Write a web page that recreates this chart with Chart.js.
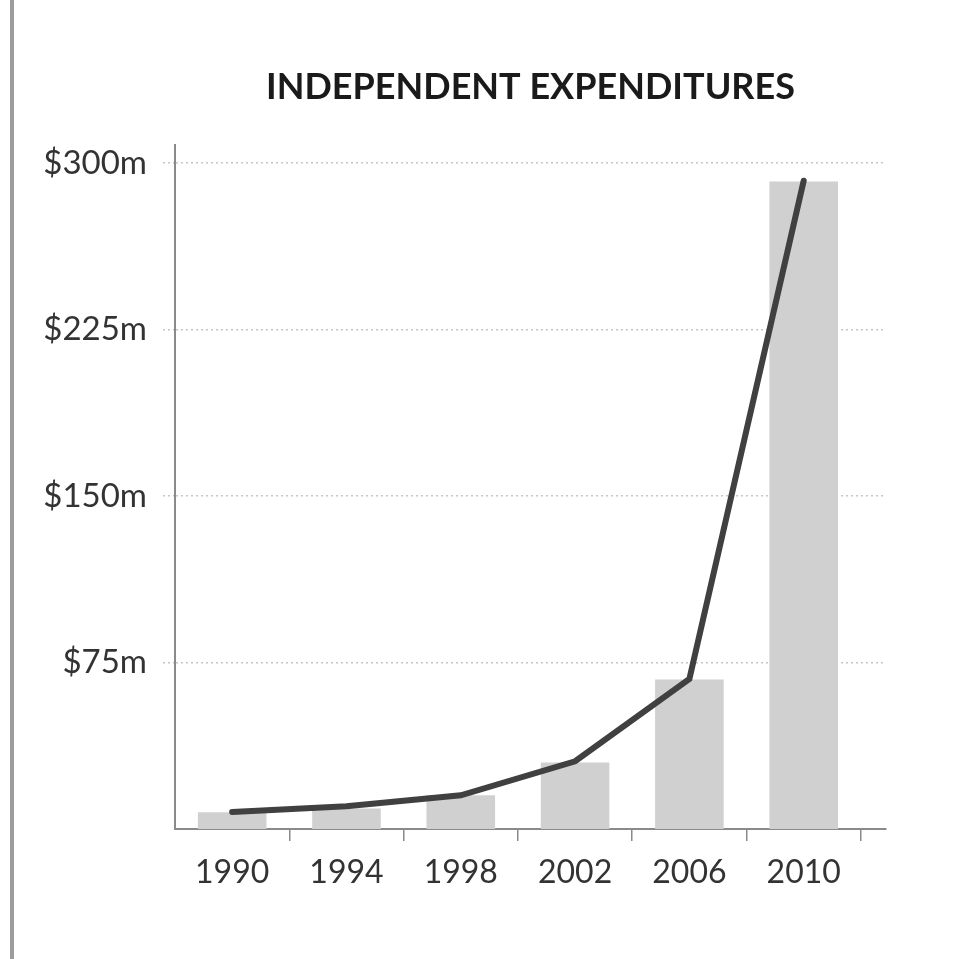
<!DOCTYPE html>
<html>
<head>
<meta charset="utf-8">
<script src="https://cdn.jsdelivr.net/npm/chart.js@4"></script>
<style>
  html, body { margin: 0; padding: 0; background: #fff; }
  body { width: 957px; height: 959px; position: relative; overflow: hidden; }
  #edge { position: absolute; left: 10px; top: 0; width: 4px; height: 959px; background: #9c9c9c; }
  #chart { position: absolute; left: 0; top: 0; }
</style>
</head>
<body>
<div id="edge"></div>
<canvas id="chart" width="957" height="959"></canvas>
<script>
// election cycles and spending, in millions of dollars
const years = ['1990', '1994', '1998', '2002', '2006', '2010'];
const spending = [7.5, 9.2, 15.2, 30, 67.3, 291.6];
const trend = [7.7, 10.3, 15.2, 30.5, 67.6, 292];
const yTicks = [75, 150, 225, 300];

const axisGray = '#8a8a8a';
const labelFont = { family: 'Lato', size: 32 };

const ctx = document.getElementById('chart');

new Chart(ctx, {
    type: 'bar',
    data: {
        datasets: [
            {
                type: 'line',
                data: trend.map((v, i) => ({ x: i, y: v })),
                borderColor: '#404040',
                borderWidth: 6,
                borderCapStyle: 'round',
                pointRadius: 0,
                tension: 0,
                order: 0
            },
            {
                type: 'bar',
                data: spending.map((v, i) => ({ x: i, y: v })),
                backgroundColor: '#d0d0d0',
                categoryPercentage: 1,
                barPercentage: 0.6,
                order: 1
            }
        ]
    },
    options: {
        responsive: false,
        animation: false,
        layout: { padding: { top: 0, left: 20, right: 71, bottom: 40 } },
        plugins: {
            legend: { display: false },
            tooltip: { enabled: false },
            title: {
                display: true,
                fullSize: false,
                text: 'INDEPENDENT EXPENDITURES',
                color: '#1a1a1a',
                font: { family: 'Lato', size: 36, weight: 'bold' },
                padding: { top: 66, bottom: 36 }
            }
        },
        scales: {
            x: {
                type: 'linear',
                min: -0.5,
                max: 5.72,
                offset: false,
                afterBuildTicks: s => { s.ticks = years.map((_, i) => ({ value: i })); },
                afterFit: s => { s.height = 90; },
                ticks: {
                    callback: v => years[v],
                    autoSkip: false,
                    maxRotation: 0,
                    color: '#333',
                    font: labelFont,
                    padding: 12
                },
                grid: {
                    offset: true,
                    drawOnChartArea: false,
                    tickLength: 12,
                    lineWidth: 1.5,
                    color: c => c.index === 0 ? 'rgba(0,0,0,0)' : axisGray
                },
                border: { color: axisGray, width: 2 }
            },
            y: {
                min: 0,
                max: 308,
                afterBuildTicks: s => { s.ticks = yTicks.map(v => ({ value: v })); },
                afterFit: s => { s.width = 155; },
                ticks: {
                    callback: v => '$' + v + 'm',
                    color: '#333',
                    font: { family: 'Lato', size: 33 },
                    padding: 16
                },
                grid: {
                    color: '#c6c6c6',
                    lineWidth: 1.5,
                    tickLength: 12,
                    tickColor: '#c6c6c6',
                    tickBorderDash: [2, 3]
                },
                border: { color: axisGray, width: 2, dash: [2, 3] }
            }
        }
    }
});
</script>
</body>
</html>
